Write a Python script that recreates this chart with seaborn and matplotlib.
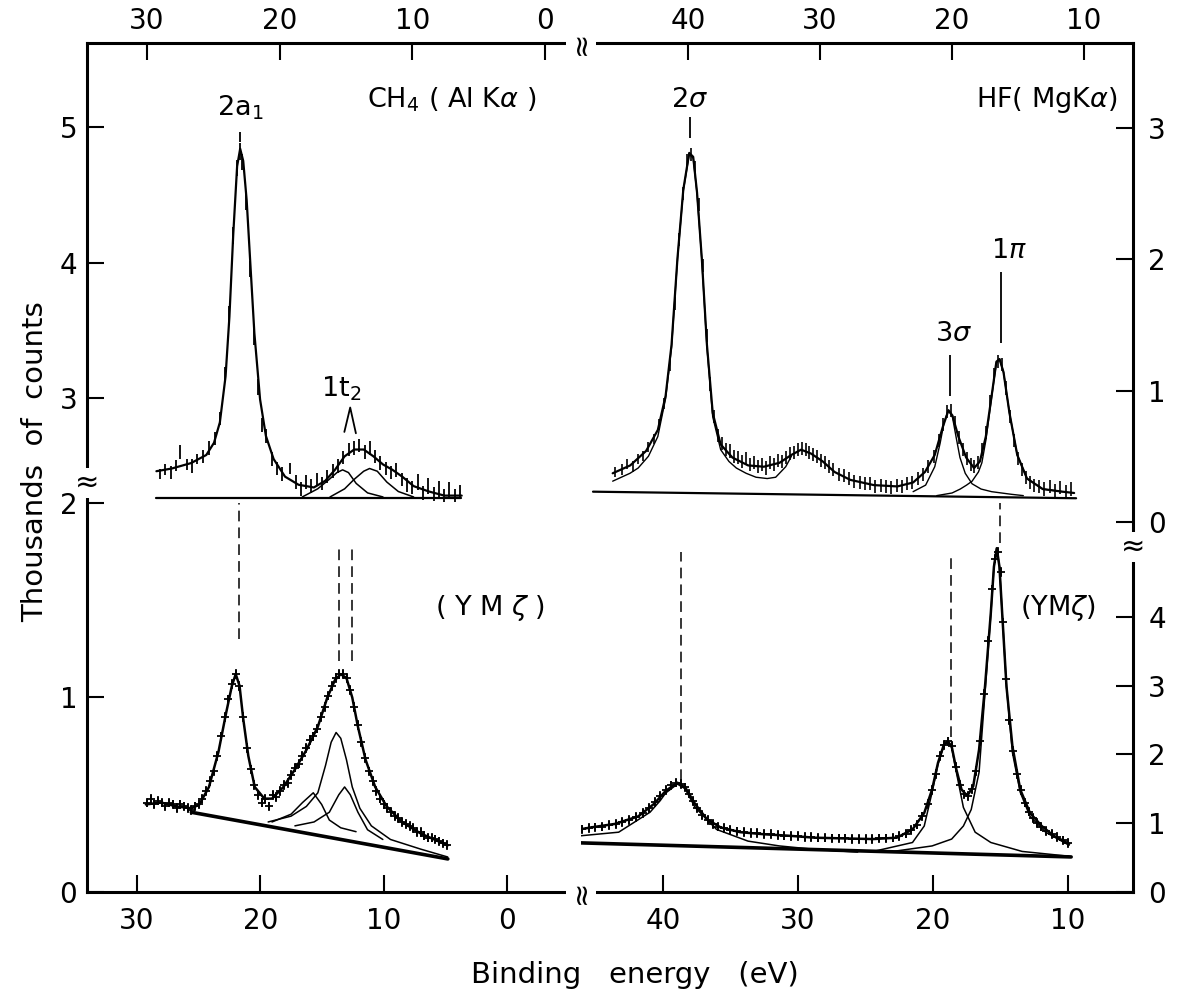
import matplotlib
matplotlib.use("Agg")
import matplotlib.pyplot as plt
import pandas as pd
import seaborn as sns

sns.set_theme(style="white")
plt.rcParams['font.family'] = ['DejaVu Sans']
plt.rcParams['mathtext.fontset'] = 'dejavusans'
plt.rcParams['text.color'] = 'black'
plt.rcParams['xtick.color'] = 'black'
plt.rcParams['ytick.color'] = 'black'

# ---------------- data: CH4 (Al K alpha), top left ----------------
ch4_al_E = [29.0, 28.6, 28.2, 27.8, 27.5, 27.0, 26.6, 26.2, 25.8, 25.3, 24.9, 24.5, 24.1, 23.8,
            23.5, 23.2, 23.0, 22.8, 22.5, 22.2, 21.9, 21.6, 21.3, 21.0, 20.6, 20.2, 19.8, 19.2,
            18.8, 18.4, 18.0, 17.6, 17.2, 16.8, 16.4, 16.0, 15.6, 15.2, 14.8, 14.4, 14.0, 13.6,
            13.2, 12.8, 12.4, 12.0, 11.6, 11.2, 10.8, 10.4, 10.0, 9.6, 9.2, 8.8, 8.4, 8.0, 7.6,
            7.2, 6.8, 6.4]
ch4_al_C = [2.44, 2.47, 2.45, 2.50, 2.60, 2.51, 2.50, 2.55, 2.57, 2.63, 2.70, 2.85, 3.18, 3.62,
            4.20, 4.70, 4.82, 4.74, 4.45, 3.95, 3.45, 3.08, 2.80, 2.72, 2.55, 2.48, 2.44, 2.48,
            2.38, 2.33, 2.38, 2.35, 2.40, 2.37, 2.42, 2.46, 2.50, 2.56, 2.62, 2.63, 2.65, 2.60,
            2.63, 2.57, 2.52, 2.48, 2.45, 2.47, 2.40, 2.36, 2.34, 2.38, 2.30, 2.35, 2.29, 2.33,
            2.28, 2.32, 2.28, 2.31]
ch4_al_err = [0.04, 0.04, 0.05, 0.04, 0.05, 0.04, 0.05, 0.04, 0.05, 0.05, 0.05, 0.05, 0.05, 0.06,
              0.06, 0.06, 0.06, 0.06, 0.06, 0.06, 0.06, 0.06, 0.05, 0.05, 0.05, 0.05, 0.05, 0.04,
              0.05, 0.05, 0.05, 0.05, 0.05, 0.05, 0.05, 0.05, 0.05, 0.05, 0.05, 0.05, 0.05, 0.05,
              0.05, 0.05, 0.05, 0.05, 0.05, 0.05, 0.05, 0.05, 0.05, 0.06, 0.05, 0.06, 0.05, 0.06,
              0.05, 0.06, 0.05, 0.05]
ch4_al_fit_E = [29.28, 28.12, 26.67, 25.52, 24.94, 24.50, 24.07, 23.78, 23.49, 23.20, 22.97, 22.74,
                22.48, 22.19, 21.90, 21.47, 21.03, 20.45, 19.59, 18.57, 17.42, 16.55, 15.83, 15.10,
                14.38, 13.66, 12.93, 12.21, 11.49, 10.76, 9.90, 8.74, 7.58, 6.28]
ch4_al_fit_C = [2.46, 2.48, 2.52, 2.58, 2.67, 2.82, 3.16, 3.60, 4.21, 4.71, 4.84, 4.75,
                4.46, 3.97, 3.48, 2.99, 2.72, 2.55, 2.42, 2.36, 2.34, 2.39, 2.47, 2.57,
                2.62, 2.62, 2.57, 2.51, 2.47, 2.42, 2.35, 2.31, 2.28, 2.28]
ch4_al_pkA_E = [18.29, 17.13, 16.26, 15.68, 15.25, 14.81, 14.23, 13.37, 12.21]
ch4_al_pkA_C = [2.27, 2.33, 2.40, 2.45, 2.47, 2.45, 2.37, 2.30, 2.27]
ch4_al_pkB_E = [16.20, 15.10, 14.38, 13.66, 13.22, 12.64, 11.92, 11.05, 9.90]
ch4_al_pkB_C = [2.27, 2.33, 2.40, 2.46, 2.48, 2.46, 2.38, 2.31, 2.27]
ch4_al_base_E = [29.3, 6.3]
ch4_al_base_C = [2.26, 2.26]

# ---------------- data: HF (Mg K alpha), top right ----------------
hf_mg_E = [45.5, 45.0, 44.6, 44.2, 43.8, 43.4, 43.0, 42.6, 42.2, 41.8, 41.4, 41.0, 40.7, 40.4,
           40.1, 39.8, 39.5, 39.2, 38.9, 38.6, 38.3, 38.0, 37.7, 37.4, 37.1, 36.8, 36.5, 36.2,
           35.9, 35.6, 35.3, 35.0, 34.7, 34.4, 34.1, 33.8, 33.5, 33.2, 32.9, 32.6, 32.3, 32.0,
           31.7, 31.4, 31.1, 30.8, 30.5, 30.2, 29.9, 29.6, 29.3, 29.0, 28.6, 28.2, 27.8, 27.4,
           27.0, 26.6, 26.2, 25.8, 25.4, 25.0, 24.6, 24.2, 23.8, 23.4, 23.0, 22.6, 22.2, 21.8,
           21.4, 21.0, 20.7, 20.4, 20.1, 19.8, 19.5, 19.2, 18.9, 18.6, 18.3, 18.0, 17.7, 17.4,
           17.1, 16.8, 16.5, 16.2, 15.9, 15.6, 15.3, 15.0, 14.7, 14.4, 14.1, 13.8, 13.4, 13.0,
           12.6, 12.2, 11.8, 11.4, 11.0]
hf_mg_C = [0.38, 0.40, 0.44, 0.42, 0.48, 0.50, 0.57, 0.63, 0.74, 0.90, 1.20, 1.66, 2.15, 2.50,
           2.75, 2.80, 2.70, 2.42, 1.95, 1.42, 1.05, 0.80, 0.66, 0.60, 0.55, 0.54, 0.50, 0.49,
           0.46, 0.48, 0.44, 0.45, 0.42, 0.44, 0.41, 0.45, 0.44, 0.47, 0.46, 0.49, 0.52, 0.53,
           0.55, 0.56, 0.55, 0.53, 0.51, 0.50, 0.47, 0.45, 0.42, 0.40, 0.36, 0.35, 0.33, 0.31,
           0.30, 0.29, 0.29, 0.27, 0.28, 0.27, 0.26, 0.28, 0.27, 0.29, 0.30, 0.33, 0.36, 0.42,
           0.50, 0.62, 0.74, 0.84, 0.85, 0.76, 0.64, 0.55, 0.48, 0.44, 0.42, 0.45, 0.55, 0.68,
           0.92, 1.12, 1.22, 1.20, 1.02, 0.80, 0.62, 0.48, 0.40, 0.34, 0.30, 0.28, 0.27, 0.25,
           0.27, 0.24, 0.26, 0.23, 0.25]
hf_mg_err = [0.04] * 10 + [0.05] * 93
hf_mg_fit_E = [45.71, 44.38, 43.18, 42.29, 41.70, 41.25, 40.80, 40.36, 39.91, 39.61, 39.32, 38.96,
               38.57, 38.13, 37.53, 36.64, 35.45, 34.26, 33.07, 32.17, 31.43, 30.68, 29.79, 28.90,
               27.71, 25.92, 24.14, 22.95, 22.05, 21.31, 20.71, 20.27, 19.97, 19.52, 18.93, 18.33,
               17.89, 17.44, 17.00, 16.64, 16.40, 16.10, 15.65, 15.06, 14.32, 13.13, 11.64, 10.75]
hf_mg_fit_C = [0.37, 0.43, 0.54, 0.70, 0.96, 1.35, 2.01, 2.53, 2.81, 2.78, 2.51, 2.01,
               1.35, 0.83, 0.59, 0.49, 0.43, 0.42, 0.45, 0.51, 0.55, 0.52, 0.46, 0.38,
               0.32, 0.28, 0.27, 0.30, 0.38, 0.51, 0.72, 0.85, 0.81, 0.65, 0.49, 0.41,
               0.46, 0.65, 0.96, 1.22, 1.24, 1.14, 0.83, 0.51, 0.33, 0.25, 0.23, 0.22]
hf_mg_2s_E = [45.71, 44.40, 43.78, 43.00, 42.29, 41.70, 41.25, 40.80, 40.36, 39.91, 39.61, 39.32,
              38.96, 38.57, 38.13, 37.53, 36.90, 36.34, 35.60, 34.85, 34.00, 33.36, 32.60, 32.17]
hf_mg_2s_C = [0.31, 0.37, 0.41, 0.50, 0.65, 0.94, 1.33, 2.00, 2.52, 2.80, 2.77, 2.50,
              2.00, 1.33, 0.80, 0.55, 0.46, 0.41, 0.37, 0.34, 0.33, 0.34, 0.42, 0.50]
hf_mg_3s_E = [22.95, 22.00, 21.31, 20.90, 20.60, 20.27, 19.97, 19.70, 19.40, 19.00, 18.48, 17.80,
              17.00, 15.50, 14.60]
hf_mg_3s_C = [0.23, 0.28, 0.42, 0.60, 0.76, 0.85, 0.80, 0.65, 0.49, 0.37, 0.29, 0.25,
              0.23, 0.21, 0.20]
hf_mg_1p_E = [21.16, 20.00, 19.38, 18.90, 18.48, 18.00, 17.74, 17.44, 17.00, 16.64, 16.40, 16.10,
              15.65, 15.06, 14.32, 13.13, 11.64]
hf_mg_1p_C = [0.20, 0.22, 0.25, 0.28, 0.31, 0.38, 0.45, 0.62, 0.95, 1.21, 1.24, 1.14,
              0.83, 0.51, 0.33, 0.25, 0.23]
hf_mg_base_E = [47.2, 10.6]
hf_mg_base_C = [0.23, 0.18]

# ---------------- data: CH4 (Y M zeta), bottom left ----------------
ch4_y_E = [29.2, 28.9, 28.6, 28.3, 28.0, 27.7, 27.4, 27.1, 26.8, 26.5, 26.2, 25.9, 25.6, 25.3,
           25.0, 24.7, 24.4, 24.1, 23.8, 23.5, 23.2, 22.9, 22.6, 22.3, 22.0, 21.7, 21.4, 21.1,
           20.8, 20.5, 20.2, 19.9, 19.6, 19.3, 19.0, 18.7, 18.4, 18.1, 17.8, 17.5, 17.2, 16.9,
           16.6, 16.3, 16.0, 15.7, 15.4, 15.1, 14.8, 14.5, 14.2, 13.9, 13.6, 13.3, 13.0, 12.7,
           12.4, 12.1, 11.8, 11.5, 11.2, 10.9, 10.6, 10.3, 10.0, 9.7, 9.4, 9.1, 8.8, 8.5, 8.2,
           7.9, 7.6, 7.3, 7.0, 6.7, 6.4, 6.1, 5.8, 5.5, 5.2, 4.9]
ch4_y_C = [0.46, 0.48, 0.45, 0.47, 0.46, 0.44, 0.46, 0.45, 0.43, 0.45, 0.44, 0.43, 0.42, 0.44,
           0.45, 0.48, 0.52, 0.57, 0.62, 0.70, 0.80, 0.90, 0.99, 1.07, 1.12, 1.06, 0.90, 0.74,
           0.63, 0.55, 0.50, 0.46, 0.48, 0.44, 0.50, 0.49, 0.52, 0.55, 0.56, 0.60, 0.64, 0.66,
           0.70, 0.74, 0.78, 0.80, 0.84, 0.90, 0.95, 1.01, 1.06, 1.10, 1.12, 1.12, 1.10, 1.04,
           0.95, 0.86, 0.77, 0.69, 0.62, 0.57, 0.52, 0.48, 0.45, 0.43, 0.41, 0.39, 0.38, 0.36, 0.35,
           0.34, 0.33, 0.31, 0.31, 0.29, 0.28, 0.28, 0.27, 0.26, 0.25, 0.24]
ch4_y_fit_E = [29.29, 28.05, 26.81, 25.57, 24.95, 24.17, 23.40, 22.78, 22.31, 22.00, 21.69, 21.39,
               20.98, 20.46, 19.68, 19.06, 18.13, 17.20, 16.27, 15.34, 14.57, 13.95, 13.48, 13.02,
               12.55, 12.09, 11.47, 10.69, 9.76, 8.52, 6.98, 4.81]
ch4_y_fit_C = [0.45, 0.46, 0.44, 0.43, 0.45, 0.54, 0.72, 0.92, 1.06, 1.12, 1.06, 0.89,
               0.70, 0.54, 0.48, 0.48, 0.54, 0.63, 0.73, 0.85, 1.00, 1.09, 1.12, 1.10,
               1.00, 0.85, 0.68, 0.54, 0.44, 0.36, 0.30, 0.24]
ch4_y_pk1_E = [19.37, 17.51, 16.27, 15.34, 14.72, 14.26, 13.86, 13.48, 13.02, 12.55, 11.93, 11.00,
               9.45, 6.98, 4.81]
ch4_y_pk1_C = [0.36, 0.39, 0.44, 0.51, 0.65, 0.77, 0.82, 0.79, 0.68, 0.54, 0.43, 0.34,
               0.27, 0.22, 0.18]
ch4_y_pk2_E = [19.06, 17.51, 16.58, 15.71, 15.03, 14.41, 13.48, 12.24]
ch4_y_pk2_C = [0.36, 0.40, 0.46, 0.51, 0.45, 0.37, 0.33, 0.31]
ch4_y_pk3_E = [17.20, 15.65, 14.41, 13.64, 13.17, 12.71, 12.09, 11.31, 10.07]
ch4_y_pk3_C = [0.34, 0.36, 0.41, 0.50, 0.54, 0.50, 0.41, 0.32, 0.27]
ch4_y_base_E = [25.6, 4.8]
ch4_y_base_C = [0.41, 0.17]

# ---------------- data: HF (Y M zeta), bottom right ----------------
hf_y_E = [47.0, 46.5, 46.0, 45.5, 45.0, 44.5, 44.0, 43.5, 43.0, 42.5, 42.0, 41.5, 41.0, 40.6,
          40.2, 39.8, 39.4, 39.0, 38.7, 38.4, 38.1, 37.8, 37.5, 37.1, 36.7, 36.3, 35.9, 35.5,
          35.0, 34.5, 34.0, 33.5, 33.0, 32.5, 32.0, 31.5, 31.0, 30.5, 30.0, 29.5, 29.0, 28.5,
          28.0, 27.5, 27.0, 26.5, 26.0, 25.5, 25.0, 24.5, 24.0, 23.5, 23.0, 22.5, 22.0, 21.6,
          21.2, 20.8, 20.4, 20.1, 19.8, 19.5, 19.2, 18.9, 18.6, 18.3, 18.0, 17.7, 17.4, 17.1,
          16.8, 16.5, 16.2, 15.9, 15.6, 15.4, 15.2, 15.0, 14.8, 14.6, 14.4, 14.1, 13.8, 13.5,
          13.2, 12.9, 12.6, 12.3, 12.0, 11.6, 11.2, 10.8, 10.4, 10.0]
hf_y_C = [0.88, 0.90, 0.91, 0.93, 0.94, 0.95, 0.97, 0.99, 1.02, 1.05, 1.09, 1.15, 1.22, 1.31,
          1.40, 1.48, 1.55, 1.59, 1.57, 1.52, 1.43, 1.32, 1.22, 1.12, 1.05, 0.99, 0.95, 0.93,
          0.90, 0.88, 0.87, 0.86, 0.86, 0.84, 0.84, 0.83, 0.82, 0.81, 0.81, 0.80, 0.80, 0.79,
          0.79, 0.78, 0.78, 0.78, 0.77, 0.77, 0.77, 0.77, 0.78, 0.78, 0.79, 0.81, 0.85, 0.90,
          0.98, 1.10, 1.28, 1.48, 1.72, 1.98, 2.14, 2.19, 2.12, 1.82, 1.56, 1.42, 1.40, 1.50,
          1.76, 2.20, 2.88, 3.65, 4.40, 4.85, 4.95, 4.65, 3.92, 3.10, 2.50, 2.05, 1.72, 1.48,
          1.30, 1.17, 1.08, 1.00, 0.95, 0.89, 0.84, 0.80, 0.75, 0.71]
hf_y_fit_E = [47.05, 45.31, 43.57, 41.83, 40.67, 39.80, 38.93, 38.35, 37.62, 36.75, 35.74, 34.28,
              32.54, 30.80, 28.77, 26.74, 24.42, 22.68, 21.52, 20.65, 20.07, 19.63, 19.20, 18.91,
              18.62, 18.27, 17.89, 17.46, 17.02, 16.59, 16.15, 15.72, 15.49, 15.28, 15.08, 14.85,
              14.56, 14.12, 13.54, 12.82, 11.95, 11.08, 9.92]
hf_y_fit_C = [0.88, 0.94, 0.99, 1.10, 1.28, 1.47, 1.59, 1.52, 1.28, 1.06, 0.94, 0.87,
              0.84, 0.82, 0.79, 0.78, 0.77, 0.79, 0.91, 1.15, 1.49, 1.88, 2.14, 2.19,
              2.12, 1.78, 1.49, 1.40, 1.54, 2.07, 2.99, 4.06, 4.73, 5.00, 4.73, 3.96,
              2.99, 2.12, 1.49, 1.15, 0.96, 0.82, 0.70]
hf_y_2s_E = [47.05, 43.28, 40.96, 40.20, 39.80, 38.93, 38.35, 37.62, 36.03, 33.70, 31.38, 28.77, 25.58]
hf_y_2s_C = [0.80, 0.87, 1.16, 1.33, 1.44, 1.57, 1.50, 1.23, 0.91, 0.74, 0.67, 0.62, 0.58]
hf_y_3s_E = [24.42, 21.52, 20.65, 20.07, 19.63, 19.20, 18.91, 18.62, 18.27, 17.75, 16.88, 15.72,
             13.40, 9.92]
hf_y_3s_C = [0.59, 0.72, 0.96, 1.45, 1.86, 2.13, 2.19, 2.10, 1.74, 1.23, 0.87, 0.72,
             0.59, 0.52]
hf_y_1p_E = [22.97, 20.07, 18.62, 17.75, 17.17, 16.59, 16.15, 15.72, 15.49, 15.28, 15.08, 14.85,
             14.56, 14.12, 13.54, 12.82, 11.66, 9.92]
hf_y_1p_C = [0.59, 0.67, 0.77, 0.96, 1.20, 1.74, 2.90, 4.04, 4.72, 5.00, 4.73, 3.96,
             2.99, 2.03, 1.45, 1.10, 0.87, 0.68]
hf_y_base_E = [47.05, 9.77]
hf_y_base_C = [0.72, 0.51]

# guide (dashed) lines linking peaks: energy, lower and upper count level
ch4_guide_E = [21.74, 13.63, 12.57]
ch4_guide_lo = [1.30, 1.19, 1.19]
ch4_guide_hi = [2.00, 1.77, 1.77]
hf_guide_E = [38.67, 18.67, 15.04]
hf_guide_lo = [1.63, 2.25, 5.08]
hf_guide_hi = [4.95, 4.87, 5.66]

# ---------------- layout ----------------
W, H = 1177, 999
fig = plt.figure(figsize=(W / 100, H / 100), dpi=100)


def rect(x0, y0, x1, y1):
    return [x0 / W, 1 - y1 / H, (x1 - x0) / W, (y1 - y0) / H]


frame = fig.add_axes(rect(87, 43, 1133, 892))
frame.set_xticks([])
frame.set_yticks([])
frame.set_facecolor('white')
for s in frame.spines.values():
    s.set_linewidth(2.2)
    s.set_color('black')


def panel(r, xlim, ylim, xticks, yticks, xside, yside, xpad, ypad):
    ax = fig.add_axes(r)
    ax.set_facecolor('none')
    for s in ax.spines.values():
        s.set_visible(False)
    ax.set_xlim(*xlim)
    ax.set_ylim(*ylim)
    ax.set_xticks(xticks)
    ax.set_xticklabels([str(t) for t in xticks])
    ax.set_yticks(yticks)
    ax.set_yticklabels([str(t) for t in yticks])
    if xside == 'top':
        ax.xaxis.tick_top()
    else:
        ax.xaxis.tick_bottom()
    if yside == 'left':
        ax.yaxis.tick_left()
    else:
        ax.yaxis.tick_right()
    ax.tick_params(direction='in', length=12, width=1.5, labelsize=20, colors='black')
    ax.tick_params(axis='x', pad=xpad)
    ax.tick_params(axis='y', pad=ypad)
    return ax


ax_tl = panel(rect(87, 43, 581, 520), (34.51, -2.71), (2.10, 5.62), [30, 20, 10, 0], [3, 4, 5],
              'top', 'left', 6, 7)
ax_tr = panel(rect(581, 43, 1133, 540), (48.11, 6.29), (-0.138, 3.647), [40, 30, 20, 10], [0, 1, 2, 3],
              'top', 'right', 6, 11)
ax_bl = panel(rect(87, 480, 581, 892), (34.06, -6.0), (0, 2.118), [30, 20, 10, 0], [0, 1, 2],
              'bottom', 'left', 11, 7)
ax_br = panel(rect(581, 490, 1133, 892), (46.07, 5.19), (0, 5.847), [40, 30, 20, 10], [0, 1, 2, 3, 4],
              'bottom', 'right', 11, 11)


def curve(ax, E, C, lw):
    sns.lineplot(x=E, y=C, ax=ax, sort=False, estimator=None, color='black', lw=lw, legend=False)


# --- top left
curve(ax_tl, ch4_al_base_E, ch4_al_base_C, 1.6)
curve(ax_tl, ch4_al_pkA_E, ch4_al_pkA_C, 1.1)
curve(ax_tl, ch4_al_pkB_E, ch4_al_pkB_C, 1.1)
curve(ax_tl, ch4_al_fit_E, ch4_al_fit_C, 1.6)
ax_tl.errorbar(ch4_al_E, ch4_al_C, yerr=ch4_al_err, fmt='none', ecolor='black', elinewidth=1.3)

# --- top right
curve(ax_tr, hf_mg_base_E, hf_mg_base_C, 1.6)
curve(ax_tr, hf_mg_2s_E, hf_mg_2s_C, 1.0)
curve(ax_tr, hf_mg_3s_E, hf_mg_3s_C, 1.0)
curve(ax_tr, hf_mg_1p_E, hf_mg_1p_C, 1.0)
curve(ax_tr, hf_mg_fit_E, hf_mg_fit_C, 1.6)
ax_tr.errorbar(hf_mg_E, hf_mg_C, yerr=hf_mg_err, fmt='none', ecolor='black', elinewidth=1.2)

# --- bottom left
df_bl = pd.DataFrame({'E': ch4_y_E, 'C': ch4_y_C})
curve(ax_bl, ch4_y_base_E, ch4_y_base_C, 2.6)
curve(ax_bl, ch4_y_pk1_E, ch4_y_pk1_C, 1.1)
curve(ax_bl, ch4_y_pk2_E, ch4_y_pk2_C, 1.1)
curve(ax_bl, ch4_y_pk3_E, ch4_y_pk3_C, 1.1)
curve(ax_bl, ch4_y_fit_E, ch4_y_fit_C, 1.8)
ax_bl.errorbar(df_bl['E'], df_bl['C'], yerr=0.025, fmt='none', ecolor='black', elinewidth=1.2)
sns.scatterplot(data=df_bl, x='E', y='C', ax=ax_bl, marker='+', s=40, color='black', linewidth=1.3,
                legend=False)

# --- bottom right
df_br = pd.DataFrame({'E': hf_y_E, 'C': hf_y_C})
curve(ax_br, hf_y_base_E, hf_y_base_C, 2.6)
curve(ax_br, hf_y_2s_E, hf_y_2s_C, 1.1)
curve(ax_br, hf_y_3s_E, hf_y_3s_C, 1.1)
curve(ax_br, hf_y_1p_E, hf_y_1p_C, 1.1)
curve(ax_br, hf_y_fit_E, hf_y_fit_C, 1.8)
ax_br.errorbar(df_br['E'], df_br['C'], yerr=0.07, fmt='none', ecolor='black', elinewidth=1.2)
sns.scatterplot(data=df_br, x='E', y='C', ax=ax_br, marker='+', s=40, color='black', linewidth=1.3,
                legend=False)

for ax in (ax_tl, ax_tr, ax_bl, ax_br):
    ax.set_xlabel('')
    ax.set_ylabel('')

# dashed guides
dash = (0, (7, 4))
ax_bl.vlines(ch4_guide_E, ch4_guide_lo, ch4_guide_hi, colors='black', linestyles=dash, lw=1.1)
ax_br.vlines(hf_guide_E, hf_guide_lo, hf_guide_hi, colors='black', linestyles=dash, lw=1.1)

# peak labels
fs = 19.5
ax_tl.text(23.0, 5.14, '2a$_1$', fontsize=fs, ha='center', va='center')
ax_tl.vlines([23.0], [4.89], [4.96], colors='black', lw=1.3)
ax_tl.text(13.4, 5.20, 'CH$_4$ ( Al K$\\alpha$ )', fontsize=fs, ha='left', va='center')
ax_tl.text(15.37, 3.07, '1t$_2$', fontsize=fs, ha='center', va='center')
ax_tl.plot([15.12, 14.68, 14.25], [2.75, 2.93, 2.74], color='black', lw=1.3)

ax_tr.text(39.85, 3.21, '2$\\sigma$', fontsize=fs, ha='center', va='center')
ax_tr.vlines([39.85], [2.92], [3.08], colors='black', lw=1.3)
ax_tr.text(7.42, 3.21, 'HF( MgK$\\alpha$)', fontsize=fs, ha='right', va='center')
ax_tr.text(19.9, 1.43, '3$\\sigma$', fontsize=fs, ha='center', va='center')
ax_tr.vlines([20.12], [0.96], [1.27], colors='black', lw=1.3)
ax_tr.text(15.68, 2.06, '1$\\pi$', fontsize=fs, ha='center', va='center')
ax_tr.vlines([16.29], [1.36], [1.90], colors='black', lw=1.3)

ax_bl.text(1.38, 1.46, '( Y M $\\zeta$ )', fontsize=fs, ha='center', va='center')
ax_br.text(10.74, 4.13, '(YM$\\zeta$)', fontsize=fs, ha='center', va='center')

# axis breaks
brk = dict(facecolor='white', edgecolor='none', pad=0.5)
xb = (581 - 87) / (1133 - 87)
frame.text(xb, 1.0, '\u2248', rotation=90, fontsize=21, ha='center', va='center',
           transform=frame.transAxes, bbox=brk, zorder=5)
frame.text(xb, 0.0, '\u2248', rotation=90, fontsize=21, ha='center', va='center',
           transform=frame.transAxes, bbox=brk, zorder=5)
frame.text(0.0, (892 - 483) / (892 - 43), '\u2248', fontsize=21, ha='center', va='center',
           transform=frame.transAxes, bbox=brk, zorder=5)
frame.text(1.0, (892 - 547) / (892 - 43), '\u2248', fontsize=21, ha='center', va='center',
           transform=frame.transAxes, bbox=brk, zorder=5)

fig.text(35 / W, 1 - 462 / H, 'Thousands  of  counts', rotation=90, fontsize=21,
         ha='center', va='center')
fig.text(635 / W, 1 - 975 / H, 'Binding   energy   (eV)', fontsize=21, ha='center', va='center')

fig.savefig('out.png', dpi=100)
